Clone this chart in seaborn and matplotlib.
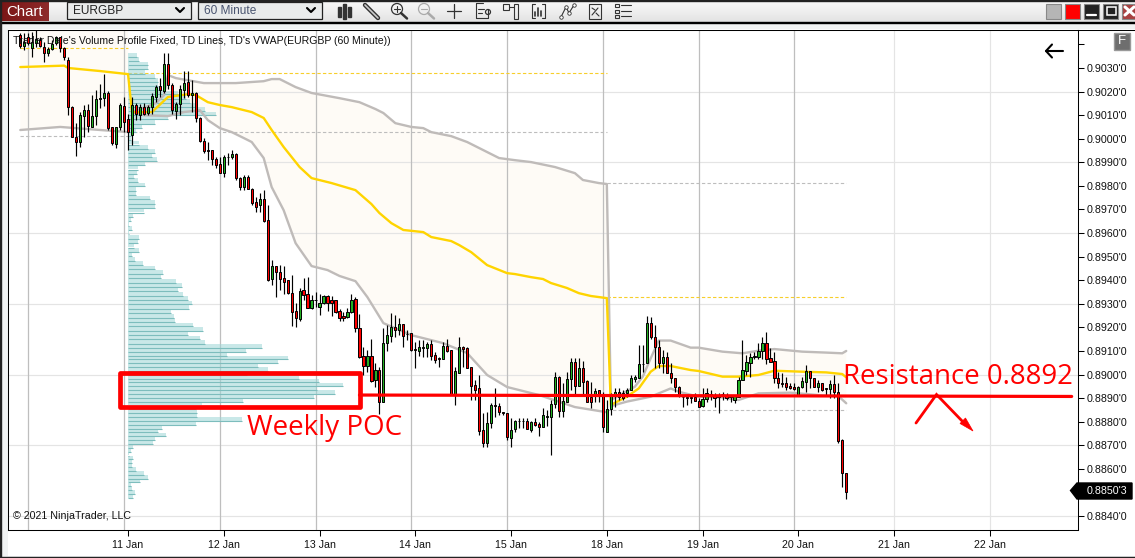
import numpy as np
import pandas as pd
import matplotlib
matplotlib.use('Agg')
import matplotlib.pyplot as plt
from matplotlib.colors import LinearSegmentedColormap
from matplotlib.patches import Rectangle, Polygon, Circle
import seaborn as sns

# Candles, EURGBP 60 minute, prices in pips (9044.0 = 0.90440)
opens = [9044.0, 9039.4, 9043.0, 9038.3, 9040.4, 9041.8, 9039.0, 9036.2, 9037.9, 9040.4,
         9043.0, 9038.6, 9033.6, 9013.3, 9000.6, 8998.7, 9009.7, 9012.1, 9005.1, 9009.7,
         9016.7, 9017.1, 9019.6, 9004.8, 8997.7, 9005.1, 9013.8, 9008.2, 9001.5, 9014.3,
         9010.0, 9013.6, 9011.0, 9013.3, 9017.8, 9022.3, 9020.3, 9031.9, 9022.8, 9011.9,
         9014.6, 9020.6, 9023.9, 9018.5, 9019.5, 9009.0, 8999.1, 8995.2, 8995.2, 8991.6,
         8989.1, 8985.3, 8992.1, 8992.1, 8993.5, 8983.4, 8979.4, 8983.9, 8978.5, 8973.0,
         8971.8, 8974.3, 8965.4, 8940.4, 8945.9, 8943.3, 8940.8, 8940.1, 8934.4, 8926.9,
         8923.7, 8935.7, 8934.0, 8928.4, 8931.4, 8928.8, 8930.2, 8933.2, 8931.5, 8931.5,
         8926.9, 8924.8, 8924.5, 8926.4, 8932.0, 8919.6, 8907.8, 8903.8, 8907.8, 8897.7,
         8901.9, 8888.5, 8913.2, 8916.5, 8920.0, 8918.9, 8921.4, 8917.2, 8917.5, 8910.7,
         8910.1, 8911.2, 8911.4, 8912.9, 8908.3, 8906.9, 8906.6, 8912.1, 8910.4, 8891.7,
         8900.8, 8911.5, 8911.4, 8903.0, 8895.4, 8894.1, 8876.5, 8871.1, 8879.3, 8887.1,
         8886.7, 8884.1, 8883.5, 8873.2, 8876.8, 8880.2, 8880.4, 8880.4, 8876.5, 8879.9,
         8878.9, 8877.9, 8882.0, 8881.8, 8887.4, 8898.8, 8884.7, 8888.5, 8898.0, 8905.2,
         8895.1, 8902.6, 8897.2, 8890.6, 8891.3, 8893.4, 8891.3, 8875.5, 8885.2, 8891.3,
         8892.7, 8892.2, 8892.3, 8893.4, 8898.3, 8898.7, 8904.3, 8904.7, 8921.7, 8915.8,
         8911.8, 8904.7, 8907.6, 8900.8, 8898.4, 8894.8, 8890.6, 8890.2, 8890.4, 8890.3,
         8888.6, 8886.8, 8889.5, 8891.5, 8891.0, 8890.5, 8891.7, 8891.3, 8890.5, 8889.2,
         8890.6, 8897.7, 8901.6, 8905.0, 8907.3, 8907.6, 8910.1, 8913.2, 8906.9, 8905.9,
         8898.4, 8896.5, 8896.3, 8895.1, 8894.8, 8891.3, 8894.6, 8897.0, 8901.5, 8898.4,
         8894.8, 8896.3, 8894.1, 8893.9, 8895.8, 8892.4, 8872.2, 8858.1]
closes = [9039.4, 9041.1, 9040.4, 9041.1, 9042.1, 9039.3, 9036.5, 9037.9, 9040.0, 9043.2,
          9038.3, 9034.5, 9013.6, 9000.6, 8998.7, 9010.0, 9012.1, 9005.5, 9009.6, 9016.8,
          9017.1, 9019.6, 9004.7, 8998.0, 9004.8, 9014.3, 9006.9, 9002.7, 9014.3, 9010.3,
          9013.6, 9010.7, 9013.3, 9018.1, 9022.0, 9020.6, 9031.7, 9022.8, 9012.1, 9014.7,
          9020.9, 9023.5, 9018.5, 9019.5, 9009.0, 8999.1, 8994.9, 8994.9, 8991.2, 8988.8,
          8985.6, 8992.1, 8992.4, 8993.5, 8983.2, 8979.4, 8983.9, 8978.5, 8972.9, 8971.2,
          8974.3, 8965.3, 8940.1, 8945.9, 8943.3, 8940.7, 8939.4, 8934.4, 8926.7, 8923.8,
          8935.6, 8933.9, 8928.4, 8931.5, 8931.8, 8930.2, 8933.2, 8930.5, 8930.5, 8926.7,
          8924.1, 8924.1, 8926.4, 8931.5, 8919.6, 8907.6, 8903.8, 8907.8, 8897.2, 8901.9,
          8888.5, 8913.2, 8916.8, 8920.0, 8918.9, 8921.4, 8916.5, 8917.0, 8910.4, 8910.2,
          8911.5, 8911.5, 8912.9, 8908.0, 8906.2, 8906.5, 8912.1, 8910.1, 8891.7, 8901.5,
          8911.5, 8911.0, 8902.6, 8895.3, 8893.4, 8876.2, 8871.1, 8879.3, 8887.1, 8886.7,
          8884.2, 8883.5, 8873.6, 8876.5, 8880.3, 8880.4, 8880.2, 8877.0, 8879.9, 8878.6,
          8877.9, 8882.8, 8882.2, 8887.4, 8899.1, 8884.7, 8888.8, 8898.0, 8905.2, 8895.1,
          8902.6, 8897.0, 8888.5, 8888.5, 8893.0, 8891.6, 8877.9, 8885.2, 8891.3, 8892.7,
          8890.6, 8889.9, 8893.3, 8898.4, 8898.8, 8904.3, 8904.6, 8921.7, 8915.8, 8911.8,
          8904.7, 8907.6, 8900.8, 8898.4, 8894.8, 8891.3, 8890.3, 8890.4, 8890.2, 8888.6,
          8886.4, 8889.5, 8892.0, 8891.7, 8889.9, 8890.9, 8891.9, 8889.9, 8890.7, 8890.9,
          8897.7, 8901.9, 8905.4, 8907.3, 8907.8, 8910.1, 8913.2, 8906.6, 8905.4, 8898.4,
          8896.3, 8896.0, 8894.8, 8894.1, 8893.7, 8894.6, 8897.2, 8901.5, 8898.4, 8894.8,
          8896.3, 8893.4, 8893.9, 8895.8, 8892.4, 8871.9, 8858.1, 8850.3]
highs = [9044.9, 9044.7, 9044.7, 9045.4, 9046.1, 9043.2, 9041.1, 9039.0, 9041.8, 9043.5,
         9043.2, 9039.0, 9034.5, 9013.8, 9006.5, 9011.4, 9014.3, 9014.7, 9018.5, 9020.6,
         9023.2, 9027.4, 9020.3, 9005.1, 9005.1, 9015.0, 9017.8, 9010.7, 9017.8, 9015.0,
         9014.7, 9015.0, 9014.3, 9019.2, 9022.8, 9025.6, 9036.2, 9036.2, 9023.5, 9015.7,
         9022.8, 9028.8, 9028.8, 9024.9, 9019.9, 9009.3, 9000.1, 8998.7, 8995.2, 8992.4,
         8992.4, 8993.1, 8993.8, 8995.2, 8993.8, 8983.9, 8984.6, 8984.6, 8979.0, 8975.4,
         8976.8, 8978.3, 8971.9, 8948.6, 8946.0, 8946.5, 8946.0, 8940.1, 8942.2, 8930.2,
         8936.6, 8940.8, 8941.2, 8933.7, 8935.1, 8934.0, 8933.7, 8933.7, 8933.4, 8931.6,
         8927.6, 8926.7, 8928.1, 8934.2, 8933.0, 8925.7, 8911.8, 8910.4, 8914.9, 8904.7,
         8903.3, 8919.6, 8921.0, 8925.9, 8925.2, 8923.8, 8921.4, 8918.9, 8917.5, 8913.9,
         8914.6, 8914.6, 8913.9, 8914.6, 8909.7, 8907.6, 8913.9, 8914.9, 8910.4, 8903.3,
         8915.8, 8912.1, 8911.8, 8903.3, 8897.7, 8899.8, 8883.8, 8884.2, 8887.8, 8894.1,
         8887.8, 8884.2, 8883.5, 8881.4, 8880.7, 8881.4, 8881.4, 8881.4, 8880.4, 8881.4,
         8880.0, 8885.7, 8885.0, 8889.2, 8901.2, 8899.4, 8896.3, 8901.2, 8906.9, 8906.9,
         8906.9, 8905.7, 8897.7, 8897.0, 8894.1, 8893.4, 8892.7, 8889.2, 8892.3, 8894.1,
         8894.1, 8893.4, 8894.1, 8899.8, 8899.8, 8912.5, 8912.5, 8924.8, 8924.2, 8921.0,
         8914.6, 8910.4, 8909.7, 8904.7, 8898.4, 8895.1, 8891.3, 8891.3, 8891.3, 8892.0,
         8889.9, 8894.1, 8894.1, 8893.4, 8892.0, 8892.0, 8892.7, 8892.0, 8891.3, 8891.3,
         8899.1, 8914.6, 8908.3, 8909.0, 8909.7, 8913.2, 8916.0, 8918.2, 8911.1, 8909.7,
         8901.2, 8900.8, 8899.1, 8896.3, 8896.3, 8895.1, 8899.1, 8904.0, 8901.5, 8898.4,
         8897.7, 8896.3, 8894.1, 8897.7, 8899.8, 8896.3, 8872.5, 8858.4]
lows = [9038.3, 9037.6, 9039.7, 9034.8, 9039.0, 9039.0, 9032.6, 9035.0, 9037.6, 9039.7,
        9036.9, 9033.6, 9010.0, 9000.6, 8992.6, 8996.6, 9000.8, 9003.0, 9004.8, 9005.8,
        9012.9, 9013.8, 9003.7, 8997.3, 8995.9, 9003.7, 9003.0, 8995.2, 8997.3, 9007.9,
        9007.9, 9010.0, 9010.0, 9010.7, 9015.7, 9017.8, 9019.2, 9021.3, 9010.7, 9008.2,
        9010.0, 9017.1, 9017.8, 9011.4, 9007.2, 8998.7, 8993.8, 8990.9, 8988.8, 8987.4,
        8985.3, 8983.9, 8988.8, 8991.2, 8982.5, 8978.2, 8978.2, 8978.5, 8971.9, 8969.1,
        8969.1, 8964.8, 8939.8, 8938.0, 8932.7, 8935.8, 8934.2, 8934.2, 8920.7, 8920.3,
        8922.8, 8931.6, 8928.1, 8927.6, 8928.8, 8925.2, 8929.9, 8926.9, 8925.0, 8926.2,
        8922.8, 8922.7, 8924.1, 8926.0, 8918.2, 8906.9, 8899.8, 8901.2, 8896.7, 8894.8,
        8883.3, 8888.5, 8910.1, 8913.9, 8915.8, 8916.8, 8911.8, 8914.6, 8910.1, 8902.9,
        8907.8, 8907.6, 8907.3, 8906.2, 8905.0, 8903.3, 8906.4, 8909.7, 8891.3, 8887.1,
        8900.5, 8903.3, 8902.6, 8889.2, 8889.2, 8874.3, 8869.4, 8869.4, 8877.2, 8882.1,
        8882.8, 8882.8, 8872.2, 8869.4, 8875.8, 8877.2, 8877.2, 8876.8, 8875.8, 8878.2,
        8874.1, 8877.6, 8878.2, 8865.9, 8885.7, 8881.8, 8881.8, 8888.5, 8893.4, 8891.7,
        8895.1, 8891.3, 8888.5, 8885.7, 8888.5, 8888.5, 8875.8, 8875.5, 8882.8, 8886.4,
        8889.2, 8889.2, 8890.6, 8893.4, 8897.0, 8898.4, 8901.2, 8904.7, 8914.9, 8902.6,
        8902.6, 8900.5, 8900.5, 8896.5, 8892.7, 8890.6, 8886.4, 8887.1, 8887.8, 8888.6,
        8886.4, 8886.4, 8888.5, 8889.2, 8886.4, 8883.8, 8889.2, 8889.2, 8888.5, 8887.8,
        8890.6, 8897.7, 8899.8, 8899.1, 8906.4, 8906.4, 8906.4, 8904.3, 8905.2, 8896.5,
        8894.1, 8894.8, 8893.4, 8893.7, 8893.4, 8891.3, 8894.1, 8892.7, 8894.1, 8894.6,
        8892.7, 8893.1, 8891.3, 8889.9, 8889.9, 8871.1, 8852.2, 8847.2]

# VWAP and bands for each week: bar number, centre, upper, lower
w0_vwap_bars = [0, 11, 12, 20, 27]
w0_vwap = [9030.4, 9031.0, 9030.0, 9028.7, 9027.4]
w0_lower_bars = [0, 10, 27]
w0_lower = [9003.7, 9005.0, 9002.8]
w0_upper_price = 9052.0

w1_vwap_bars = [28, 33, 37, 42, 44, 47, 50, 53, 58, 61, 63, 66, 70, 73, 78, 84, 88, 90, 93, 96, 101, 103, 108, 110,
                113, 117, 122, 124, 128, 131, 133, 137, 140, 143, 147]
w1_vwap = [9011.3, 9011.3, 9017.7, 9018.9, 9018.5, 9015.5, 9014.3, 9013.4, 9011.3, 9008.8, 9003.7, 8996.5,
           8988.0, 8983.3, 8981.2, 8978.2, 8972.3, 8968.5, 8964.2, 8961.3, 8960.4, 8958.3, 8956.6, 8954.9,
           8951.9, 8946.4, 8943.0, 8942.6, 8941.3, 8940.5, 8938.8, 8936.7, 8934.5, 8933.3, 8932.4]
w1_upper_bars = [28, 34, 36, 37, 39, 46, 54, 61, 63, 65, 69, 73, 80, 85, 89, 91, 94, 98, 101, 103, 108, 112, 116,
                 120, 124, 128, 134, 139, 141, 145, 147]
w1_upper = [9011.3, 9015.1, 9018.5, 9027.0, 9025.7, 9023.6, 9023.6, 9024.4, 9025.3, 9025.3, 9021.9, 9019.4,
            9017.2, 9015.5, 9012.6, 9010.9, 9006.6, 9005.0, 9004.5, 9002.8, 9001.1, 8998.6, 8995.2, 8991.8,
            8990.9, 8990.1, 8988.0, 8985.4, 8982.5, 8981.2, 8980.8]
w1_lower_bars = [28, 31, 37, 41, 45, 47, 50, 53, 56, 58, 61, 63, 66, 69, 73, 77, 80, 84, 87, 91, 98, 106, 112,
                 117, 122, 130, 139, 147]
w1_lower = [9011.3, 9010.0, 9009.6, 9011.3, 9012.1, 9007.9, 9004.5, 9002.8, 9000.3, 8998.6, 8991.8, 8979.5,
            8969.7, 8955.7, 8946.0, 8944.3, 8941.8, 8939.6, 8932.8, 8921.8, 8916.7, 8913.3, 8909.1,
            8899.8, 8894.7, 8891.3, 8886.2, 8884.0]

w2_vwap_bars = [148, 152, 155, 158, 160, 163, 168, 170, 176, 180, 185, 189, 196, 202, 206, 207]
w2_vwap = [8887.1, 8890.6, 8894.1, 8901.2, 8903.6, 8903.6, 8901.9, 8901.5, 8899.1, 8899.1, 8899.8, 8901.6,
           8901.2, 8900.9, 8900.2, 8898.8]
w2_upper_bars = [148, 154, 156, 158, 160, 163, 168, 170, 176, 181, 185, 189, 196, 202, 206, 207]
w2_upper = [8889.2, 8894.8, 8899.1, 8906.9, 8914.4, 8914.4, 8911.4, 8911.4, 8909.7, 8909.0, 8910.1, 8910.8,
            8909.7, 8909.3, 8909.0, 8910.0]
w2_lower_bars = [148, 152, 158, 163, 165, 170, 176, 180, 185, 193, 202, 205, 207]
w2_lower = [8886.6, 8888.5, 8890.6, 8894.1, 8892.7, 8890.6, 8890.3, 8889.2, 8892.0, 8892.3, 8891.0, 8890.9, 8887.8]

# Volume profile rows, top to bottom
profile_upper = [9, 11, 20, 20, 17, 27, 30, 30, 34, 50, 58, 62, 67, 77, 88, 40, 27, 14, 8, 3, 3,
                 11, 20, 27, 24, 29, 17, 10, 9, 6]
profile_middle = [10, 17, 8, 8, 22, 27, 27, 16, 5, 3, 1, 4, 1, 11, 10, 6, 11, 4, 7, 15, 27, 35, 33, 48, 54, 50,
                  55, 60, 64, 61, 43, 46, 47, 65, 75, 60, 72, 77]
profile_lower = [134, 118, 99, 160, 150, 130, 140, 119, 171, 191, 215, 189, 207, 186, 115, 74,
                 68, 69, 69, 114, 68, 34, 30, 38, 27, 25, 5, 3, 1, 5, 4, 4, 8, 16, 20, 12, 3, 4, 7, 5]

# Dashed levels: price, first bar, last bar, colour
level_prices = [9038.4, 9027.8, 9002.8, 9001.1, 8981.2, 8933.0, 8884.9]
level_starts = [0, 27, 27, 0, 147, 147, 147]
level_ends = [27, 147, 147, 27, 207, 207, 207]
level_colors = ['#F7CE2A', '#F7CE2A', '#BDBDBD', '#BDBDBD', '#BDBDBD', '#F7CE2A', '#BDBDBD']

day_labels = ['11 Jan', '12 Jan', '13 Jan', '14 Jan', '15 Jan', '18 Jan', '19 Jan', '20 Jan', '21 Jan', '22 Jan']
price_ticks = list(range(8840, 9050, 10))
hidden_price_ticks = [8850, 9040]
last_price = 8850.3
resistance = 8891.1

W, H = 1135, 558
PX_PER_BAR = 3.99
FIRST_BAR_PX = 20.3
PIP_PER_PX = 0.4241

sns.set_theme(style='white')
plt.rcParams['font.family'] = ['Liberation Sans', 'DejaVu Sans']


def px_ax(zorder):
    a = fig.add_axes([0, 0, 1, 1], zorder=zorder)
    a.set_xlim(0, W)
    a.set_ylim(H, 0)
    a.axis('off')
    return a


fig = plt.figure(figsize=(W / 100, H / 100), dpi=100, facecolor='#F1F3F3')

# Window chrome behind the chart
back = px_ax(0)
grad = np.linspace(0.98, 0.89, 40).reshape(-1, 1)
back.imshow(grad, extent=[0, W, 22, 0], cmap='gray', vmin=0, vmax=1, aspect='auto')
back.add_patch(Rectangle((0, 0), W, 0.8, color='#222222'))
back.add_patch(Rectangle((0, 22), W, 0.9, color='black'))
back.add_patch(Rectangle((7.5, 29), W - 7.5, 527, facecolor='white', edgecolor='none'))
back.plot([1077, W], [29.5, 29.5], color='black', lw=0.75)
back.add_patch(Rectangle((0, 0), 0.8, H, color='#222222'))
back.add_patch(Rectangle((0, 556.5), W, 1.5, color='#222222'))

red_cmap = LinearSegmentedColormap.from_list('chart_btn', ['#7A1616', '#8E2A2A'])
back.imshow(np.linspace(0, 1, 50).reshape(1, -1), extent=[1, 49, 21, 2], cmap=red_cmap, aspect='auto')
back.set_xlim(0, W)
back.set_ylim(H, 0)
back.text(25, 11.5, 'Chart', color='white', fontsize=10.8, ha='center', va='center')

for x0, x1, label, col in [(67, 191, 'EURGBP', '#222222'), (198, 322, '60 Minute', '#4A5570')]:
    back.add_patch(Rectangle((x0, 1.5), x1 - x0, 17.5, facecolor='#E9EBEB', edgecolor='#222222', lw=0.9))
    back.text(x0 + 6, 10.5, label, color=col, fontsize=8.6, va='center')
    back.plot([x1 - 15, x1 - 11, x1 - 7], [8, 12, 8], color='black', lw=1.5)

# Toolbar icons
ic = '#333333'
for x, y0, y1 in [(339, 7, 17), (344, 4, 19), (349, 7, 17)]:
    back.add_patch(Rectangle((x - 1.5, y0), 3, y1 - y0, color=ic))
back.plot([365, 378], [5, 18], color=ic, lw=3.2)
back.plot([365, 378], [5, 18], color='#CCCCCC', lw=1.2)
for cx, mag_col in [(397, '#333333'), (424, '#AAAAAA')]:
    back.add_patch(Circle((cx, 9), 5.5, fill=False, ec=mag_col, lw=0.9))
    back.plot([cx - 3, cx + 3], [9, 9], color=mag_col, lw=0.8)
    back.plot([cx + 4, cx + 10], [13, 18.5], color=mag_col, lw=1.8)
back.plot([397, 397], [6, 12], color='#333333', lw=0.8)
back.plot([447, 461], [11, 11], color=ic, lw=0.9)
back.plot([454, 454], [4, 18], color=ic, lw=0.9)
back.plot([483, 476, 476, 488, 488], [3, 3, 18, 18, 9], color=ic, lw=0.8)
back.plot([478, 484], [9, 9], color=ic, lw=0.8)
back.plot([478, 482], [13, 13], color=ic, lw=0.8)
back.add_patch(Circle((488, 12), 2.5, fill=False, ec=ic, lw=0.9))
back.add_patch(Rectangle((503, 4), 6, 6, fill=False, ec=ic, lw=0.8))
back.add_patch(Rectangle((514, 4), 4, 15, fill=False, ec=ic, lw=0.8))
back.plot([509, 514], [7, 7], color=ic, lw=0.8)
back.plot([535, 532, 532, 535], [4, 4, 18, 18], color=ic, lw=0.8)
back.plot([542, 545, 545, 542], [4, 4, 18, 18], color=ic, lw=0.8)
for x, y0 in [(535, 12), (538, 8), (541, 11)]:
    back.plot([x, x], [y0, 16], color=ic, lw=1.2)
back.plot([561, 566, 569, 574], [17, 7, 13, 5], color=ic, lw=0.8, marker='o', ms=2.5, mfc='white', mew=0.6)
back.add_patch(Rectangle((589, 4), 12, 15, fill=False, ec=ic, lw=0.8))
back.plot([592, 598], [15, 8], color=ic, lw=0.8)
back.plot([592, 595], [8, 10], color=ic, lw=0.8)
back.plot([596, 599], [13, 16], color=ic, lw=0.8)
for y in [5, 11, 16]:
    back.add_patch(Rectangle((615, y - 1.5), 3.5, 3.5, fill=False, ec=ic, lw=0.8))
    back.plot([621, 631], [y, y], color=ic, lw=0.8)

# Window buttons
for x, fc in [(1046, '#B5B5B5'), (1065, '#FF0000'), (1084, '#222222'), (1103, '#222222'), (1122, '#A84040')]:
    back.add_patch(Rectangle((x, 3.5), 15, 15, facecolor=fc, edgecolor='#888888', lw=0.8))
back.plot([1087, 1096], [14.5, 14.5], color='white', lw=1.6)
back.add_patch(Rectangle((1106.5, 7), 9, 8, fill=False, ec='white', lw=1.1))
back.plot([1125, 1134], [7, 15], color='white', lw=2.2)
back.plot([1125, 1134], [15, 7], color='white', lw=2.2)

# Chart panel
ax = fig.add_axes([7.5 / W, 1 - 529.5 / H, (1077.5 - 7.5) / W, (529.5 - 29.5) / H], zorder=1)
ax.set_xlim((7.5 - FIRST_BAR_PX) / PX_PER_BAR, (1077.5 - FIRST_BAR_PX) / PX_PER_BAR)
ax.set_ylim(8840 - (529.5 - 516) * PIP_PER_PX, 8840 + (516 - 29.5) * PIP_PER_PX)
ax.set_facecolor('white')

# Cream band between the VWAP bands
band_color = '#FEFBF6'
ax.add_patch(Polygon(list(zip(w0_lower_bars, w0_lower)) + [(27, w0_upper_price), (0, w0_upper_price)],
                     closed=True, facecolor=band_color, edgecolor='none', zorder=1))
ax.add_patch(Polygon(list(zip(w1_upper_bars, w1_upper)) + list(zip(w1_lower_bars[::-1], w1_lower[::-1])),
                     closed=True, facecolor=band_color, edgecolor='none', zorder=1))
ax.add_patch(Polygon(list(zip(w2_upper_bars, w2_upper)) + list(zip(w2_lower_bars[::-1], w2_lower[::-1])),
                     closed=True, facecolor=band_color, edgecolor='none', zorder=1))

# Grid
for p in range(8840, 9040, 30):
    ax.axhline(p, color='#E4E4E4', lw=0.85, zorder=1.5)
for b in [2] + list(range(26, 195, 24)):
    ax.axvline(b, color='#BEBEBE', lw=0.9, zorder=1.5)
for b in [219, 243]:
    ax.axvline(b, color='#E4E4E4', lw=0.85, zorder=1.5)

for p, s, e, c in zip(level_prices, level_starts, level_ends, level_colors):
    ax.plot([s, e], [p, p], color=c, lw=0.8, ls=(0, (3, 2)), zorder=1.6)

# Volume profile
rows_upper = np.linspace(9035.5, 8984.2, len(profile_upper))
rows_middle = np.linspace(8982.5, 8913.8, len(profile_middle))
rows_lower = np.linspace(8912.1, 8848.5, len(profile_lower))
rows = np.concatenate([rows_upper, rows_middle, rows_lower])
vols = np.array(profile_upper + profile_middle + profile_lower) / PX_PER_BAR
ax.barh(rows, vols, left=27, height=1.55, color='#9ED6D6', alpha=0.55, edgecolor='none', zorder=2)
ax.hlines(rows - 0.8, 27, 27 + vols, color='#7DBDBD', lw=0.8, zorder=2.1)

# VWAP lines
line_sets = [
    (w0_lower_bars, w0_lower, '#BFBBB9'),
    (w1_upper_bars + w2_upper_bars, w1_upper + w2_upper, '#BFBBB9'),
    (w1_lower_bars, w1_lower, '#BFBBB9'),
    (w2_lower_bars, w2_lower, '#BFBBB9'),
    (w0_vwap_bars + w1_vwap_bars + w2_vwap_bars, w0_vwap + w1_vwap + w2_vwap, '#FFD400'),
]
for bars, vals, col in line_sets:
    sns.lineplot(data=pd.DataFrame({'bar': bars, 'price': vals}), x='bar', y='price', color=col, lw=1.7,
                 errorbar=None, sort=False, estimator=None, ax=ax, zorder=3)

# Candles
bars = np.arange(len(opens))
o, c, h, l = map(np.array, (opens, closes, highs, lows))
ax.vlines(bars, l, h, color='black', lw=0.85, zorder=4)
up = c >= o
body_colors = np.where(up, '#22B022', '#FF0000')
ax.bar(bars, np.abs(c - o), bottom=np.minimum(o, c), width=0.55, color=body_colors,
       edgecolor='black', linewidth=0.7, zorder=5)

# Resistance line
ax.plot([85, 263.5], [resistance + 0.2, resistance - 0.4], color='#FF0000', lw=2.3,
        solid_capstyle='round', zorder=6)

# Axes
ax.yaxis.tick_right()
ax.set_yticks(price_ticks)
ax.set_yticklabels(['' if p in hidden_price_ticks else f"0.{p}'0" for p in price_ticks],
                   fontsize=7.7, color='#111111')
ax.set_xticks([27 + 24 * n for n in range(len(day_labels))])
ax.set_xticklabels(day_labels, fontsize=7.7, color='#111111')
ax.tick_params(axis='y', length=4, width=0.75, color='black', pad=2.8, right=True, left=False)
ax.tick_params(axis='x', length=4, width=0.75, color='black', pad=3.5, bottom=True)
ax.set_xlabel('')
ax.set_ylabel('')
ax.grid(False)
for s in ax.spines.values():
    s.set_color('black')
    s.set_linewidth(0.75)
    s.set_visible(True)

# Text and drawings on top
front = px_ax(2)
front.text(13, 41, "Trader Dale's Volume Profile Fixed, TD Lines, TD's VWAP(EURGBP (60 Minute))",
           fontsize=7.55, color='#111111', va='center')
front.text(13, 516, '© 2021 NinjaTrader, LLC', fontsize=7.65, color='#111111', va='center')

front.add_patch(Rectangle((119.5, 373), 240, 34, fill=False, ec='#FF0000', lw=3.4, joinstyle='round'))
front.text(247, 428, 'Weekly POC', color='#FF0000', fontsize=20, va='center', family='Open Sans')
front.text(843, 377, 'Resistance 0.8892', color='#FF0000', fontsize=19.9, va='center', family='Open Sans')
front.plot([916, 936.5, 965], [423, 394.5, 424], color='#FF0000', lw=2, solid_joinstyle='miter')
front.add_patch(Polygon([(973, 431), (960, 423.5), (965.5, 418)], closed=True, color='#FF0000', lw=0.5))

front.plot([1046, 1063], [51, 51], color='black', lw=1.5)
front.plot([1052, 1046, 1052], [44.5, 51, 57.5], color='black', lw=1.5)

front.add_patch(Polygon([(1070.5, 490.5), (1077, 483), (1132, 483), (1132, 499), (1077, 499)],
                        closed=True, color='black'))
front.text(1086.5, 491, f"0.{int(last_price)}'{str(last_price)[-1]}", color='white', fontsize=7.7, va='center')

front.add_patch(Rectangle((1114, 33), 16, 17, facecolor='#6E6E6E', edgecolor='#999999', lw=1))
front.text(1122, 41.5, 'F', color='white', fontsize=9.5, ha='center', va='center')

plt.savefig('out.png', dpi=100)
